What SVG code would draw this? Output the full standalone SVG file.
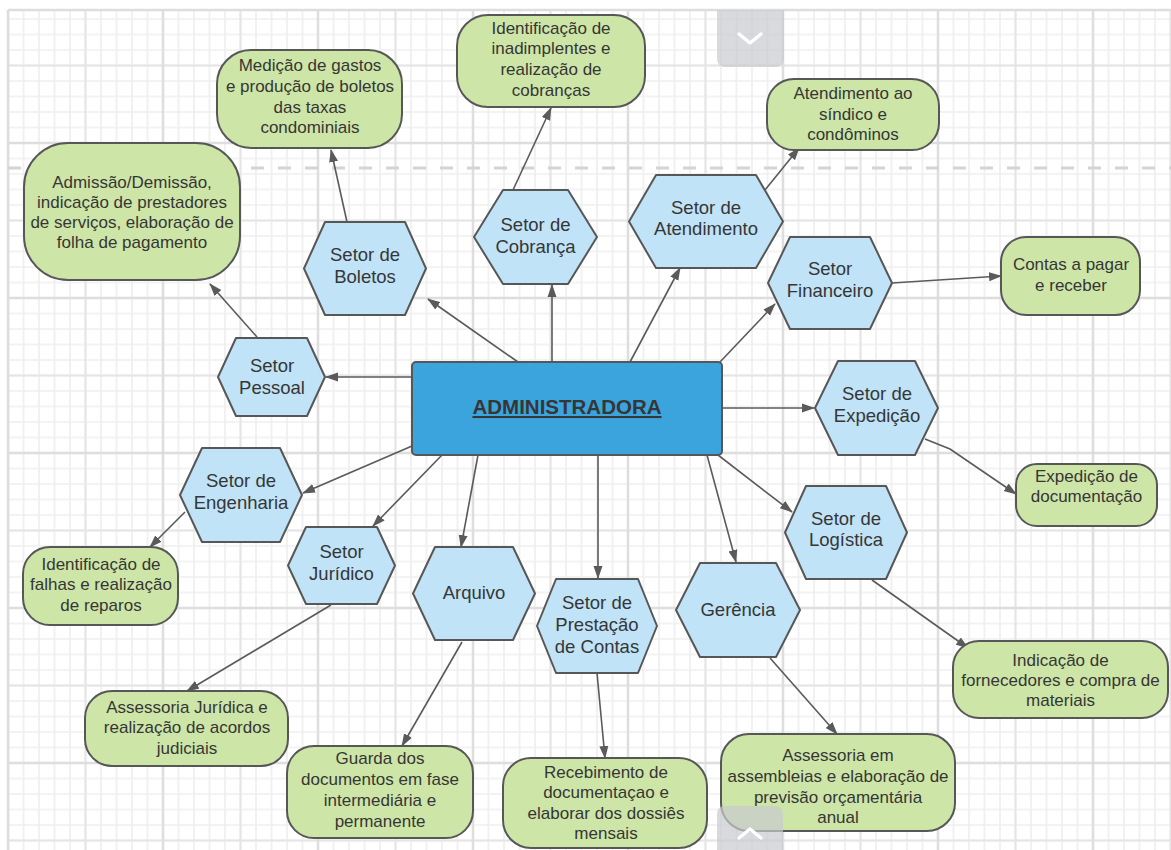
<svg xmlns="http://www.w3.org/2000/svg" width="1171" height="850" viewBox="0 0 1171 850">
<style>
.g{fill:#cde5a7;stroke:#575757;stroke-width:2}
.h{fill:#c0e3f7;stroke:#575757;stroke-width:2;stroke-linejoin:round}
.t{font-family:"Liberation Sans",Arial,sans-serif;font-size:17px;fill:#363636;text-anchor:middle}
.ht{font-size:18.5px}
.c{stroke:#5a5a5a;stroke-width:1.6;fill:none;marker-end:url(#a)}
</style>
<defs>
<marker id="a" markerUnits="userSpaceOnUse" markerWidth="13" markerHeight="10" viewBox="0 0 13 10" refX="12" refY="5" orient="auto">
<path d="M0,0.5 L13,5 L0,9.5 z" fill="#5a5a5a"/>
</marker>
<pattern id="p1" patternUnits="userSpaceOnUse" x="0.25" y="-4.25" width="15.5" height="15.5">
<path d="M7.75,0 V15.5 M0,7.75 H15.5" stroke="#efefef" stroke-width="1.6"/>
</pattern>
<pattern id="p2" patternUnits="userSpaceOnUse" x="-30.75" y="26.75" width="77.5" height="77.5">
<path d="M38.75,0 V77.5 M0,38.75 H77.5" stroke="#e5e5e5" stroke-width="2"/>
</pattern>
<pattern id="p3" patternUnits="userSpaceOnUse" x="-69.5" y="65.5" width="155" height="155">
<path d="M77.5,0 V155 M0,77.5 H155" stroke="#dcdcdc" stroke-width="2"/>
</pattern>
</defs>
<rect width="1171" height="850" fill="#ffffff"/>
<g id="grid">
<rect x="8" y="10" width="1163" height="840" fill="url(#p1)"/>
<rect x="8" y="10" width="1163" height="840" fill="url(#p2)"/>
<rect x="8" y="10" width="1163" height="840" fill="url(#p3)"/>
<path d="M8,10 H1171 M8,10 V850" stroke="#dcdde0" stroke-width="2.5" fill="none"/>
<path d="M8,168 H1171" stroke="#d4d4d4" stroke-width="3" stroke-dasharray="13 14" fill="none"/>
</g>
<g id="connectors">
<path class="c" d="M412,377 L326,377"/>
<path class="c" d="M518,362 L428,299"/>
<path class="c" d="M552,362 L552,285"/>
<path class="c" d="M630,362 L680,268"/>
<path class="c" d="M720,362 L775,304"/>
<path class="c" d="M722,408 L814,408"/>
<path class="c" d="M718,455 L792,512"/>
<path class="c" d="M707,455 L736,562"/>
<path class="c" d="M598,455 L598,578"/>
<path class="c" d="M478,455 L461,547"/>
<path class="c" d="M442,455 L373,526"/>
<path class="c" d="M412,446 L303,493"/>
<path class="c" d="M257,337 L210,284"/>
<path class="c" d="M347,222 L331,150"/>
<path class="c" d="M513,190 L551,108"/>
<path class="c" d="M765,190 L799,148"/>
<path class="c" d="M892,283 L1001,276"/>
<path class="c" d="M925,439 L950,449 L1016,494"/>
<path class="c" d="M872,580 L968,648"/>
<path class="c" d="M770,658 L837,734"/>
<path class="c" d="M597,673 L605,758"/>
<path class="c" d="M462,642 L402,746"/>
<path class="c" d="M331,605 L187,691"/>
<path class="c" d="M185,512 L150,547"/>
</g>
<g id="administradora">
<rect x="412" y="362" width="310" height="93" rx="4" fill="#3ba4dd" stroke="#575757" stroke-width="2"/>
<text x="567" y="414" class="t" style="font-size:20.5px;font-weight:bold;text-decoration:underline">ADMINISTRADORA</text>
</g>
<g id="setor-boletos">
<polygon class="h" points="304,268.5 325,222 405,222 426,268.5 405,315 325,315"/>
<text class="t ht" x="365"><tspan x="365" y="260.5">Setor de</tspan><tspan x="365" y="282.5">Boletos</tspan></text>
</g>
<g id="setor-cobranca">
<polygon class="h" points="474,237 503,190 568,190 597,237 568,284 503,284"/>
<text class="t ht"><tspan x="535.5" y="230.5">Setor de</tspan><tspan x="535.5" y="252.5">Cobrança</tspan></text>
</g>
<g id="setor-atendimento">
<polygon class="h" points="629,221.5 656,175 756,175 783,221.5 756,268 656,268"/>
<text class="t ht"><tspan x="706" y="213.5">Setor de</tspan><tspan x="706" y="234.5">Atendimento</tspan></text>
</g>
<g id="setor-financeiro">
<polygon class="h" points="768,283 790,237 870,237 892,283 870,329 790,329"/>
<text class="t ht"><tspan x="830" y="274.5">Setor</tspan><tspan x="830" y="296.5">Financeiro</tspan></text>
</g>
<g id="setor-pessoal">
<polygon class="h" points="218,377 236,338 307,338 325,377 307,416 236,416"/>
<text class="t ht"><tspan x="272" y="371.5">Setor</tspan><tspan x="272" y="393.5">Pessoal</tspan></text>
</g>
<g id="setor-engenharia">
<polygon class="h" points="180,495 202,448 280,448 302,495 280,542 202,542"/>
<text class="t ht"><tspan x="241" y="486.5">Setor de</tspan><tspan x="241" y="508.5">Engenharia</tspan></text>
</g>
<g id="setor-juridico">
<polygon class="h" points="288,565.5 306,527 377,527 395,565.5 377,604 306,604"/>
<text class="t ht"><tspan x="341.5" y="557.5">Setor</tspan><tspan x="341.5" y="579.5">Jurídico</tspan></text>
</g>
<g id="arquivo">
<polygon class="h" points="413,593.5 435,547 513,547 535,593.5 513,640 435,640"/>
<text class="t ht" x="474" y="598.5">Arquivo</text>
</g>
<g id="setor-prestacao">
<polygon class="h" points="537,626 556,579 638,579 657,626 638,673 556,673"/>
<text class="t ht"><tspan x="597" y="608.5">Setor de</tspan><tspan x="597" y="630.5">Prestação</tspan><tspan x="597" y="652.5">de Contas</tspan></text>
</g>
<g id="gerencia">
<polygon class="h" points="676,610 700,563 776,563 800,610 776,657 700,657"/>
<text class="t ht" x="738" y="615.5">Gerência</text>
</g>
<g id="setor-logistica">
<polygon class="h" points="785,532.5 806,486 886,486 907,532.5 886,579 806,579"/>
<text class="t ht"><tspan x="846" y="524.5">Setor de</tspan><tspan x="846" y="545.5">Logística</tspan></text>
</g>
<g id="setor-expedicao">
<polygon class="h" points="815,408 838,361 915,361 938,408 915,455 838,455"/>
<text class="t ht"><tspan x="877" y="399.5">Setor de</tspan><tspan x="877" y="421.5">Expedição</tspan></text>
</g>
<g id="medicao">
<rect class="g" x="217" y="50" width="185" height="98" rx="34"/>
<text class="t"><tspan x="310" y="71">Medição de gastos</tspan><tspan x="310" y="92">e produção de boletos</tspan><tspan x="310" y="113">das taxas</tspan><tspan x="310" y="133">condominiais</tspan></text>
</g>
<g id="admissao">
<rect class="g" x="24" y="143" width="216" height="137" rx="44"/>
<text class="t"><tspan x="132" y="188">Admissão/Demissão,</tspan><tspan x="132" y="208">indicação de prestadores</tspan><tspan x="132" y="228">de serviços, elaboração de</tspan><tspan x="132" y="248">folha de pagamento</tspan></text>
</g>
<g id="inadimplentes">
<rect class="g" x="457" y="15" width="188" height="92" rx="31"/>
<text class="t"><tspan x="551" y="34">Identificação de</tspan><tspan x="551" y="54">inadimplentes e</tspan><tspan x="551" y="75">realização de</tspan><tspan x="551" y="96">cobranças</tspan></text>
</g>
<g id="atendimento-sindico">
<rect class="g" x="767" y="79" width="172" height="71" rx="27"/>
<text class="t"><tspan x="853" y="99">Atendimento ao</tspan><tspan x="853" y="120">síndico e</tspan><tspan x="853" y="140">condôminos</tspan></text>
</g>
<g id="contas">
<rect class="g" x="1001" y="237" width="139" height="78" rx="25"/>
<text class="t"><tspan x="1071" y="270">Contas a pagar</tspan><tspan x="1071" y="291">e receber</tspan></text>
</g>
<g id="expedicao-doc">
<rect class="g" x="1016" y="464" width="141" height="62" rx="21"/>
<text class="t"><tspan x="1086.5" y="482">Expedição de</tspan><tspan x="1086.5" y="502">documentação</tspan></text>
</g>
<g id="indicacao-fornecedores">
<rect class="g" x="953" y="641" width="215" height="77" rx="26"/>
<text class="t"><tspan x="1060.5" y="666">Indicação de</tspan><tspan x="1060.5" y="686">fornecedores e compra de</tspan><tspan x="1060.5" y="706">materiais</tspan></text>
</g>
<g id="assessoria-assembleias">
<rect class="g" x="721" y="734" width="234" height="97" rx="28"/>
<text class="t"><tspan x="838" y="761">Assessoria em</tspan><tspan x="838" y="782">assembleias e elaboração de</tspan><tspan x="838" y="803">previsão orçamentária</tspan><tspan x="838" y="823">anual</tspan></text>
</g>
<g id="recebimento">
<rect class="g" x="503" y="758" width="204" height="90" rx="28"/>
<text class="t"><tspan x="606" y="778">Recebimento de</tspan><tspan x="606" y="798">documentaçao e</tspan><tspan x="606" y="819">elaborar dos dossiês</tspan><tspan x="606" y="839">mensais</tspan></text>
</g>
<g id="guarda">
<rect class="g" x="287" y="746" width="186" height="92" rx="27"/>
<text class="t"><tspan x="380" y="764">Guarda dos</tspan><tspan x="380" y="785">documentos em fase</tspan><tspan x="380" y="806">intermediária e</tspan><tspan x="380" y="827">permanente</tspan></text>
</g>
<g id="assessoria-juridica">
<rect class="g" x="85" y="691" width="203" height="75" rx="27"/>
<text class="t"><tspan x="187" y="713">Assessoria Jurídica e</tspan><tspan x="187" y="733">realização de acordos</tspan><tspan x="187" y="754">judiciais</tspan></text>
</g>
<g id="falhas">
<rect class="g" x="23" y="547" width="155" height="78" rx="27"/>
<text class="t"><tspan x="101" y="570">Identificação de</tspan><tspan x="101" y="590">falhas e realização</tspan><tspan x="101" y="611">de reparos</tspan></text>
</g>
<g id="scroll-buttons">
<path d="M717,10 H784 V59 A8,8 0 0 1 776,67 H725 A8,8 0 0 1 717,59 Z" fill="#c9cbcf" fill-opacity="0.7"/>
<polyline points="739,34 750,43 761,34" fill="none" stroke="#ffffff" stroke-width="3.5" stroke-linecap="round" stroke-linejoin="round"/>
<path d="M717,850 V814 A8,8 0 0 1 725,806 H775 A8,8 0 0 1 783,814 V850 Z" fill="#c9cbcf" fill-opacity="0.7"/>
<polyline points="739,838 750,829 761,838" fill="none" stroke="#ffffff" stroke-width="3.5" stroke-linecap="round" stroke-linejoin="round"/>
</g>
</svg>
